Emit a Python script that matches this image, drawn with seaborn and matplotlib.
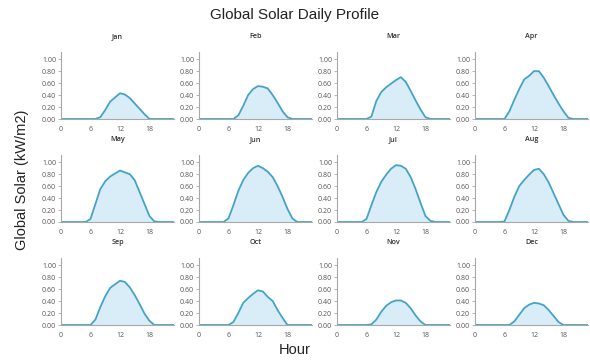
import numpy as np
import pandas as pd
import matplotlib
matplotlib.use("Agg")
import matplotlib.pyplot as plt
import seaborn as sns

hours = list(range(24))
months = ["Jan", "Feb", "Mar", "Apr", "May", "Jun",
          "Jul", "Aug", "Sep", "Oct", "Nov", "Dec"]

# Average hourly global solar irradiance (kW/m2), hours 0..23
jan = [0, 0, 0, 0, 0, 0, 0, 0, 0.03, 0.15, 0.29, 0.36, 0.43, 0.41, 0.35, 0.26, 0.17, 0.08, 0.0, 0, 0, 0, 0, 0]
feb = [0, 0, 0, 0, 0, 0, 0, 0, 0.06, 0.22, 0.40, 0.50, 0.55, 0.54, 0.51, 0.40, 0.27, 0.13, 0.03, 0, 0, 0, 0, 0]
mar = [0, 0, 0, 0, 0, 0, 0, 0.04, 0.30, 0.45, 0.53, 0.59, 0.65, 0.70, 0.62, 0.47, 0.31, 0.16, 0.03, 0, 0, 0, 0, 0]
apr = [0, 0, 0, 0, 0, 0, 0, 0.13, 0.32, 0.50, 0.66, 0.72, 0.80, 0.80, 0.69, 0.55, 0.40, 0.26, 0.13, 0.02, 0, 0, 0, 0]
may = [0, 0, 0, 0, 0, 0, 0.05, 0.30, 0.55, 0.68, 0.76, 0.81, 0.86, 0.83, 0.80, 0.70, 0.50, 0.30, 0.10, 0.01, 0, 0, 0, 0]
jun = [0, 0, 0, 0, 0, 0, 0.06, 0.28, 0.52, 0.70, 0.82, 0.90, 0.94, 0.90, 0.84, 0.75, 0.60, 0.42, 0.22, 0.06, 0, 0, 0, 0]
jul = [0, 0, 0, 0, 0, 0, 0.05, 0.28, 0.50, 0.67, 0.79, 0.89, 0.95, 0.94, 0.89, 0.75, 0.55, 0.32, 0.10, 0.02, 0, 0, 0, 0]
aug = [0, 0, 0, 0, 0, 0, 0.01, 0.20, 0.42, 0.60, 0.70, 0.79, 0.87, 0.89, 0.80, 0.66, 0.48, 0.30, 0.12, 0.02, 0, 0, 0, 0]
sep = [0, 0, 0, 0, 0, 0, 0, 0.09, 0.30, 0.48, 0.62, 0.68, 0.74, 0.72, 0.63, 0.50, 0.35, 0.19, 0.07, 0, 0, 0, 0, 0]
oct_ = [0, 0, 0, 0, 0, 0, 0, 0.05, 0.20, 0.37, 0.45, 0.52, 0.58, 0.56, 0.47, 0.40, 0.25, 0.12, 0.0, 0, 0, 0, 0, 0]
nov = [0, 0, 0, 0, 0, 0, 0, 0.01, 0.09, 0.22, 0.32, 0.38, 0.41, 0.41, 0.37, 0.28, 0.16, 0.06, 0.0, 0, 0, 0, 0, 0]
dec = [0, 0, 0, 0, 0, 0, 0, 0, 0.06, 0.17, 0.28, 0.34, 0.37, 0.36, 0.33, 0.25, 0.15, 0.05, 0.0, 0, 0, 0, 0, 0]

series = [jan, feb, mar, apr, may, jun, jul, aug, sep, oct_, nov, dec]
xticks = [0, 6, 12, 18]
yticks = [0.0, 0.2, 0.4, 0.6, 0.8, 1.0]

df = pd.DataFrame({
    "month": np.repeat(months, len(hours)),
    "hour": hours * len(months),
    "solar": np.concatenate(series),
})

sns.set_style("white")
plt.rcParams["font.family"] = ["Open Sans", "DejaVu Sans"]

LINE = "#45a3c8"
FILL = "#d8edf7"
GREY = "#a8a8a8"
HEAD = ["Liberation Sans", "DejaVu Sans"]


def draw_profile(data, **kws):
    ax = plt.gca()
    ax.fill_between(data["hour"], data["solar"], 0, color=FILL, lw=0)
    sns.lineplot(data=data, x="hour", y="solar", ax=ax, color=LINE, lw=1.3)


g = sns.FacetGrid(df, col="month", col_wrap=4, col_order=months,
                  sharex=False, sharey=False, height=1, aspect=1.2)
g.map_dataframe(draw_profile)
g.figure.set_size_inches(5.9, 3.6)
g.figure.set_dpi(100)

W, H = 590, 360
lefts = [61, 199, 337, 475]
zeros = [119, 222, 325]
ax_w, ax_h = 113, 67

for i, ax in enumerate(g.axes.flat):
    r, c = divmod(i, 4)
    ax.set_position([lefts[c] / W, (H - zeros[r]) / H, ax_w / W, ax_h / H])
    ax.set_xlim(0, 23)
    ax.set_ylim(0, 1.12)
    ax.set_xticks(xticks)
    ax.set_yticks(yticks)
    ax.set_yticklabels([f"{v:.2f}" for v in yticks])
    ax.set_xlabel("")
    ax.set_ylabel("")
    ax.set_title(months[i], fontsize=5.2, color="#333333", pad=10,
                 fontweight="semibold")
    for s in ["top", "right"]:
        ax.spines[s].set_visible(False)
    for s in ["left", "bottom"]:
        ax.spines[s].set_color(GREY)
        ax.spines[s].set_linewidth(0.8)
    ax.tick_params(axis="y", length=2, width=0.6, color=GREY, pad=1.5,
                   labelsize=5, labelcolor="#555555", left=True)
    ax.tick_params(axis="x", length=0, pad=5, labelsize=5,
                   labelcolor="#555555")

fig = g.figure
fig.text(0.5, 1 - 15 / H, "Global Solar Daily Profile", ha="center",
         va="center", fontsize=11, color="#222222", family=HEAD)
fig.text(22 / W, 0.5, "Global Solar (kW/m2)", rotation=90, ha="center",
         va="center", fontsize=10.5, color="#222222", family=HEAD)
fig.text(0.5, 1 - 350 / H, "Hour", ha="center", va="center",
         fontsize=10.5, color="#222222", family=HEAD)

fig.savefig("out.png", dpi=100)
